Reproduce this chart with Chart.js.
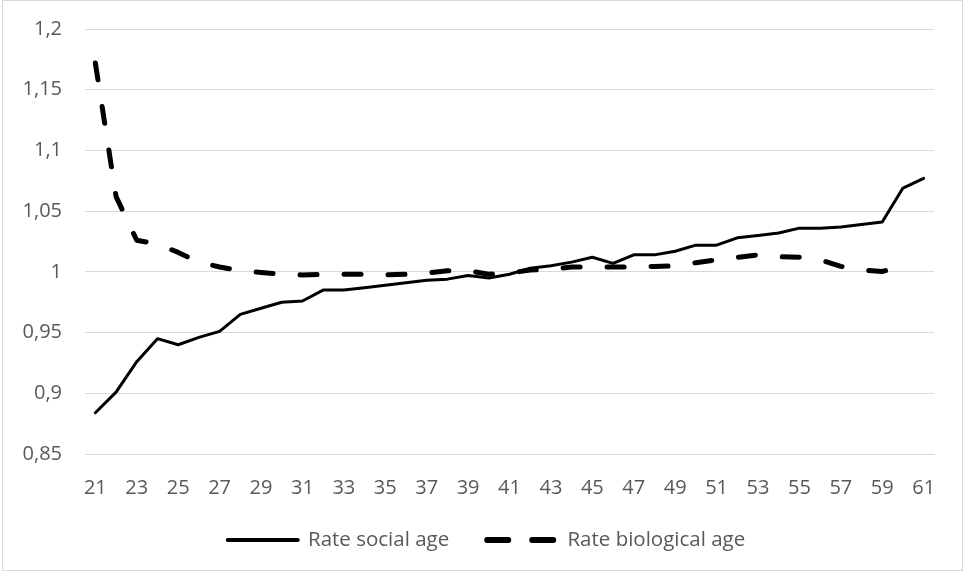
<!DOCTYPE html>
<html>
<head>
<meta charset="utf-8">
<script src="https://cdn.jsdelivr.net/npm/chart.js@4.4.1/dist/chart.umd.min.js"></script>
<style>
  html, body { margin: 0; padding: 0; background: #fff; }
  #wrap { position: absolute; left: 2px; top: 0px; width: 961px; height: 571px; border: 1px solid #d9d9d9; box-sizing: border-box; }
  canvas { display: block; }
</style>
</head>
<body>
<div id="wrap"><canvas id="c" width="959" height="569"></canvas></div>
<script>
const ages = [21,22,23,24,25,26,27,28,29,30,31,32,33,34,35,36,37,38,39,40,41,42,43,44,45,46,47,48,49,50,51,52,53,54,55,56,57,58,59,60,61];
const rateSocialAge = [0.884,0.901,0.926,0.945,0.940,0.946,0.951,0.965,0.970,0.975,0.976,0.985,0.985,0.987,0.989,0.991,0.993,0.994,0.997,0.995,0.998,1.003,1.005,1.008,1.012,1.007,1.014,1.014,1.017,1.022,1.022,1.028,1.030,1.032,1.036,1.036,1.037,1.039,1.041,1.069,1.077];
const rateBiologicalAge = [1.172,1.062,1.026,1.023,1.016,1.008,1.004,1.001,0.9995,0.998,0.9975,0.998,0.998,0.998,0.9975,0.998,0.999,1.001,1.001,0.998,0.999,1.0015,1.002,1.004,1.004,1.004,1.004,1.0044,1.005,1.0075,1.010,1.012,1.014,1.0125,1.012,1.010,1.0045,1.0015,1.0003,1.005,null];
const yTicks = [0.85,0.9,0.95,1,1.05,1.1,1.15,1.2];

const gray = '#595959';
const fontFam = '"Open Sans", "Liberation Sans", sans-serif';
const legendDash = [[], [21, 24]];
const legendWidth = [4, 6];

function noLabelClip(s) { s._computeLabelArea = function() { return undefined; }; }

new Chart(document.getElementById('c'), {
  type: 'line',
  data: {
    labels: ages,
    datasets: [
      {
        label: 'Rate social age',
        data: rateSocialAge,
        borderColor: '#000',
        backgroundColor: '#000',
        borderWidth: 3,
        pointRadius: 0,
        tension: 0,
        borderCapStyle: 'round',
        borderJoinStyle: 'round'
      },
      {
        label: 'Rate biological age',
        data: rateBiologicalAge,
        borderColor: '#000',
        backgroundColor: '#000',
        borderWidth: 5,
        borderDash: [17, 27],
        borderCapStyle: 'round',
        borderJoinStyle: 'round',
        pointRadius: 0,
        tension: 0
      }
    ]
  },
  options: {
    responsive: false,
    animation: false,
    devicePixelRatio: 1,
    layout: { padding: { top: 28, right: 28, bottom: 9.75, left: 36 } },
    plugins: {
      tooltip: { enabled: false },
      legend: {
        position: 'bottom',
        labels: {
          color: gray,
          font: { family: fontFam, size: 20.5 },
          usePointStyle: true,
          pointStyle: 'line',
          pointStyleWidth: 70,
          boxWidth: 70,
          padding: 38,
          generateLabels: function(chart) {
            const items = Chart.defaults.plugins.legend.labels.generateLabels(chart);
            items.forEach(function(it, i) {
              it.lineDash = legendDash[i];
              it.lineWidth = legendWidth[i];
              it.lineCap = 'round';
              it.strokeStyle = '#000';
            });
            return items;
          }
        }
      }
    },
    scales: {
      x: {
        offset: true,
        grid: { display: false, drawTicks: false },
        border: { display: true, color: '#d9d9d9' },
        ticks: {
          color: gray,
          font: { family: fontFam, size: 20 },
          autoSkip: false,
          maxRotation: 0,
          padding: 22,
          callback: function(v, i) { return i % 2 === 0 ? ages[i] : ''; }
        },
        afterFit: function(s) { s.height = 37.75; noLabelClip(s); }
      },
      y: {
        min: 0.85,
        max: 1.2,
        grid: { color: '#d9d9d9', lineWidth: 1, drawTicks: false },
        border: { display: false },
        afterBuildTicks: function(s) { s.ticks = yTicks.map(v => ({ value: v })); },
        ticks: {
          color: gray,
          font: { family: fontFam, size: 20 },
          padding: 23,
          callback: function(v) { return String(Math.round(v * 100) / 100).replace('.', ','); }
        },
        afterFit: function(s) { s.width = 46; s.paddingTop = 12; s.paddingBottom = 12; noLabelClip(s); }
      }
    }
  }
});
</script>
</body>
</html>
